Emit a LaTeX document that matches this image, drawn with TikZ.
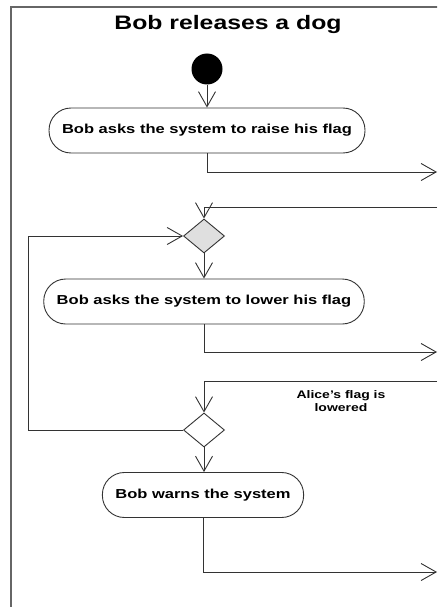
\documentclass[tikz,border=0pt]{standalone}
\usepackage{fontspec}
\setmainfont[FakeStretch=1.27]{Liberation Sans}
\usetikzlibrary{arrows.meta,shapes.geometric}

\begin{document}
\begin{tikzpicture}[x=1pt, y=-1pt,
    flow/.style={draw=black!80, line width=0.9pt, -{Straight Barb[length=15pt, width=17pt, line width=0.9pt]}},
    action/.style={draw=black!80, line width=0.9pt, rounded corners=22pt, fill=white,
        minimum height=45pt, inner xsep=13pt, font=\fontsize{13}{15}\selectfont\bfseries},
    decision/.style={diamond, draw=black!80, line width=0.9pt, fill=white,
        minimum width=41pt, minimum height=34pt, inner sep=0pt},
    startnode/.style={circle, fill=black, minimum size=31pt, inner sep=0pt},
    guard/.style={align=center, font=\fontsize{11}{13}\selectfont\bfseries},
    heading/.style={font=\fontsize{19.5}{22}\selectfont\bfseries}]

    % --- Page and frame ---
    \useasboundingbox (0,0) rectangle (437,607);
    \clip (0,0) rectangle (437,607);
    \fill[white] (0,0) rectangle (437,607);
    \draw[black!60, line width=1.2pt] (11,7) rectangle (460,630);

    % --- Title ---
    \node[heading] (title) at (228,25) {Bob releases a dog};

    % --- Activity nodes ---
    \node[startnode] (start) at (207,69) {};
    \node[action] (raise) at (207,130.5) {Bob asks the system to raise his flag};
    \node[decision, fill=gray!25] (merge) at (204,236) {};
    \node[action] (lower) at (204,301.5) {Bob asks the system to lower his flag};
    \node[decision] (check) at (204,430) {};
    \node[action] (warn) at (203,495) {Bob warns the system};

    % Guard label
    \node[guard] (alicelbl) at (341,401) {Alice's flag is\\lowered};

    % --- Off-page ends (right edge) ---
    \coordinate (raiseout) at (437,172);
    \coordinate (raisein) at (437,207);
    \coordinate (lowerout) at (437,352);
    \coordinate (lowerin) at (437,381);
    \coordinate (warnout) at (437,572);
    \coordinate (loopcorner) at (28,236);

    % --- Connectors ---
    \draw[flow] (start) -- (raise);
    \draw[flow] (raise.south) |- (raiseout);
    \draw[flow] (raisein) -| (merge.north);
    \draw[flow] (merge.south) -- (merge.south |- lower.north);
    \draw[flow] (lower.south) |- (lowerout);
    \draw[flow] (lowerin) -| (check.north);
    \draw[flow] (check.south) -- (check.south |- warn.north);
    \draw[flow] (warn.south) |- (warnout);

    % Loop back to the merge
    \draw[flow] (check.west) -| (loopcorner) -- (merge.west);

\end{tikzpicture}
\end{document}
